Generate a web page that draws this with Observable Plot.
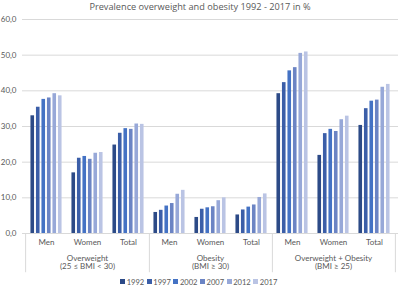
<!DOCTYPE html>
<html>
<head>
<meta charset="utf-8">
<script src="https://cdn.jsdelivr.net/npm/d3@7"></script>
<script src="https://cdn.jsdelivr.net/npm/@observablehq/plot@0.6"></script>
<style>
  html, body { margin: 0; padding: 0; background: #fff; }
  body { width: 400px; height: 287px; overflow: hidden; font-family: Lato, "Open Sans", sans-serif; }
  #title { height: 14px; line-height: 14px; text-align: center; font-size: 9.2px; color: #595959; font-family: "Open Sans", sans-serif; }
  #chart svg { display: block; }
  #legend { height: 11px; display: flex; justify-content: center; }
  #legend > div { min-height: 0 !important; margin: 0 !important; justify-content: center; }
  #legend [class$="-swatch"] { margin-right: 2.5px !important; }
  #legend [class$="-swatch"] > svg { margin-right: 1.5px !important; }
</style>
</head>
<body>
<div id="title">Prevalence overweight and obesity 1992 - 2017 in %</div>
<div id="chart"></div>
<div id="legend"></div>
<script>
const groups = ["Overweight", "Obesity", "Overweight + Obesity"];
const groupLabels = ["Overweight\n(25 ≤ BMI < 30)", "Obesity\n(BMI ≥ 30)", "Overweight + Obesity\n(BMI ≥ 25)"];
const categories = ["Men", "Women", "Total"];
const years = ["1992", "1997", "2002", "2007", "2012", "2017"];
const colors = ["#2c4a87", "#3b5ea8", "#4472c4", "#6b84c4", "#97a8d8", "#bac4e4"];
const yTicks = [0, 10, 20, 30, 40, 50, 60];

// values[group][category] = per-year values
const overweight = {
  Men:   [33.0, 35.4, 37.6, 38.0, 39.2, 38.6],
  Women: [17.0, 21.1, 21.6, 20.8, 22.5, 22.7],
  Total: [24.8, 28.1, 29.4, 29.2, 30.7, 30.6]
};
const obesity = {
  Men:   [5.9, 6.5, 7.7, 8.4, 11.0, 12.1],
  Women: [4.5, 6.8, 7.2, 7.5, 9.2, 10.0],
  Total: [5.2, 6.6, 7.4, 8.0, 10.1, 11.1]
};
const overweightObesity = {
  Men:   [39.2, 42.3, 45.6, 46.5, 50.5, 50.9],
  Women: [21.9, 28.0, 29.2, 28.6, 31.9, 32.9],
  Total: [30.3, 35.0, 37.1, 37.4, 41.0, 41.8]
};
const series = [overweight, obesity, overweightObesity];

const key = (g, c) => g + "|" + c;
const keys = groups.flatMap(g => categories.map(c => key(g, c)));

const data = [];
groups.forEach((g, gi) => {
  categories.forEach(c => {
    years.forEach((y, yi) => {
      data.push({key: key(g, c), group: g, category: c, year: y, value: series[gi][c][yi]});
    });
  });
});

const W = 400, H = 262, mL = 22, mR = 2;
const padInner = 0.21;
const step = (W - mL - mR) / keys.length;
const band = step * (1 - padInner);
const barStep = band / years.length;
const gap = 0.45;

const fmt = d => d.toFixed(1).replace(".", ",");

const plot = Plot.plot({
  width: W,
  height: H,
  marginLeft: mL,
  marginRight: mR,
  marginTop: 5,
  marginBottom: 43,
  style: {fontFamily: "Lato, 'Open Sans', sans-serif", fontSize: "8px", color: "#595959", background: "#fff"},
  x: {domain: keys, paddingInner: padInner, paddingOuter: padInner / 2, label: null},
  y: {domain: [0, 60], label: null},
  color: {domain: years, range: colors, type: "ordinal"},
  marks: [
    Plot.ruleY(yTicks, {stroke: "#d9d9d9", strokeWidth: 1}),
    Plot.axisY(yTicks, {tickSize: 0, tickPadding: 6, tickFormat: fmt, label: null, fill: "#595959"}),
    Plot.axisX({tickSize: 0, tickPadding: 6, tickFormat: k => k.split("|")[1], label: null, fill: "#595959"}),
    ...years.map((yr, i) => Plot.barY(data.filter(d => d.year === yr), {
      x: "key", y: "value", fill: "year",
      insetLeft: i * barStep + gap, insetRight: (years.length - 1 - i) * barStep + gap
    })),
    Plot.ruleX([keys[0]], {y1: 0, y2: -11, dx: -step / 2, stroke: "#d9d9d9"}),
    Plot.ruleX([keys[2], keys[5], keys[8]], {y1: 0, y2: -11, dx: step / 2, stroke: "#d9d9d9"}),
    Plot.text(groups.map((g, i) => ({key: key(g, "Women"), label: groupLabels[i]})), {
      x: "key", text: "label", frameAnchor: "bottom", lineAnchor: "top", dy: 21, lineHeight: 1.08,
      fill: "#595959", fontSize: 8
    })
  ]
});
document.getElementById("chart").appendChild(plot);

const legend = plot.legend("color", {swatchSize: 5, swatchWidth: 5, swatchHeight: 5,
  style: {fontFamily: "Lato, 'Open Sans', sans-serif", fontSize: "7.6px", color: "#595959"}});
document.getElementById("legend").appendChild(legend);
</script>
</body>
</html>
